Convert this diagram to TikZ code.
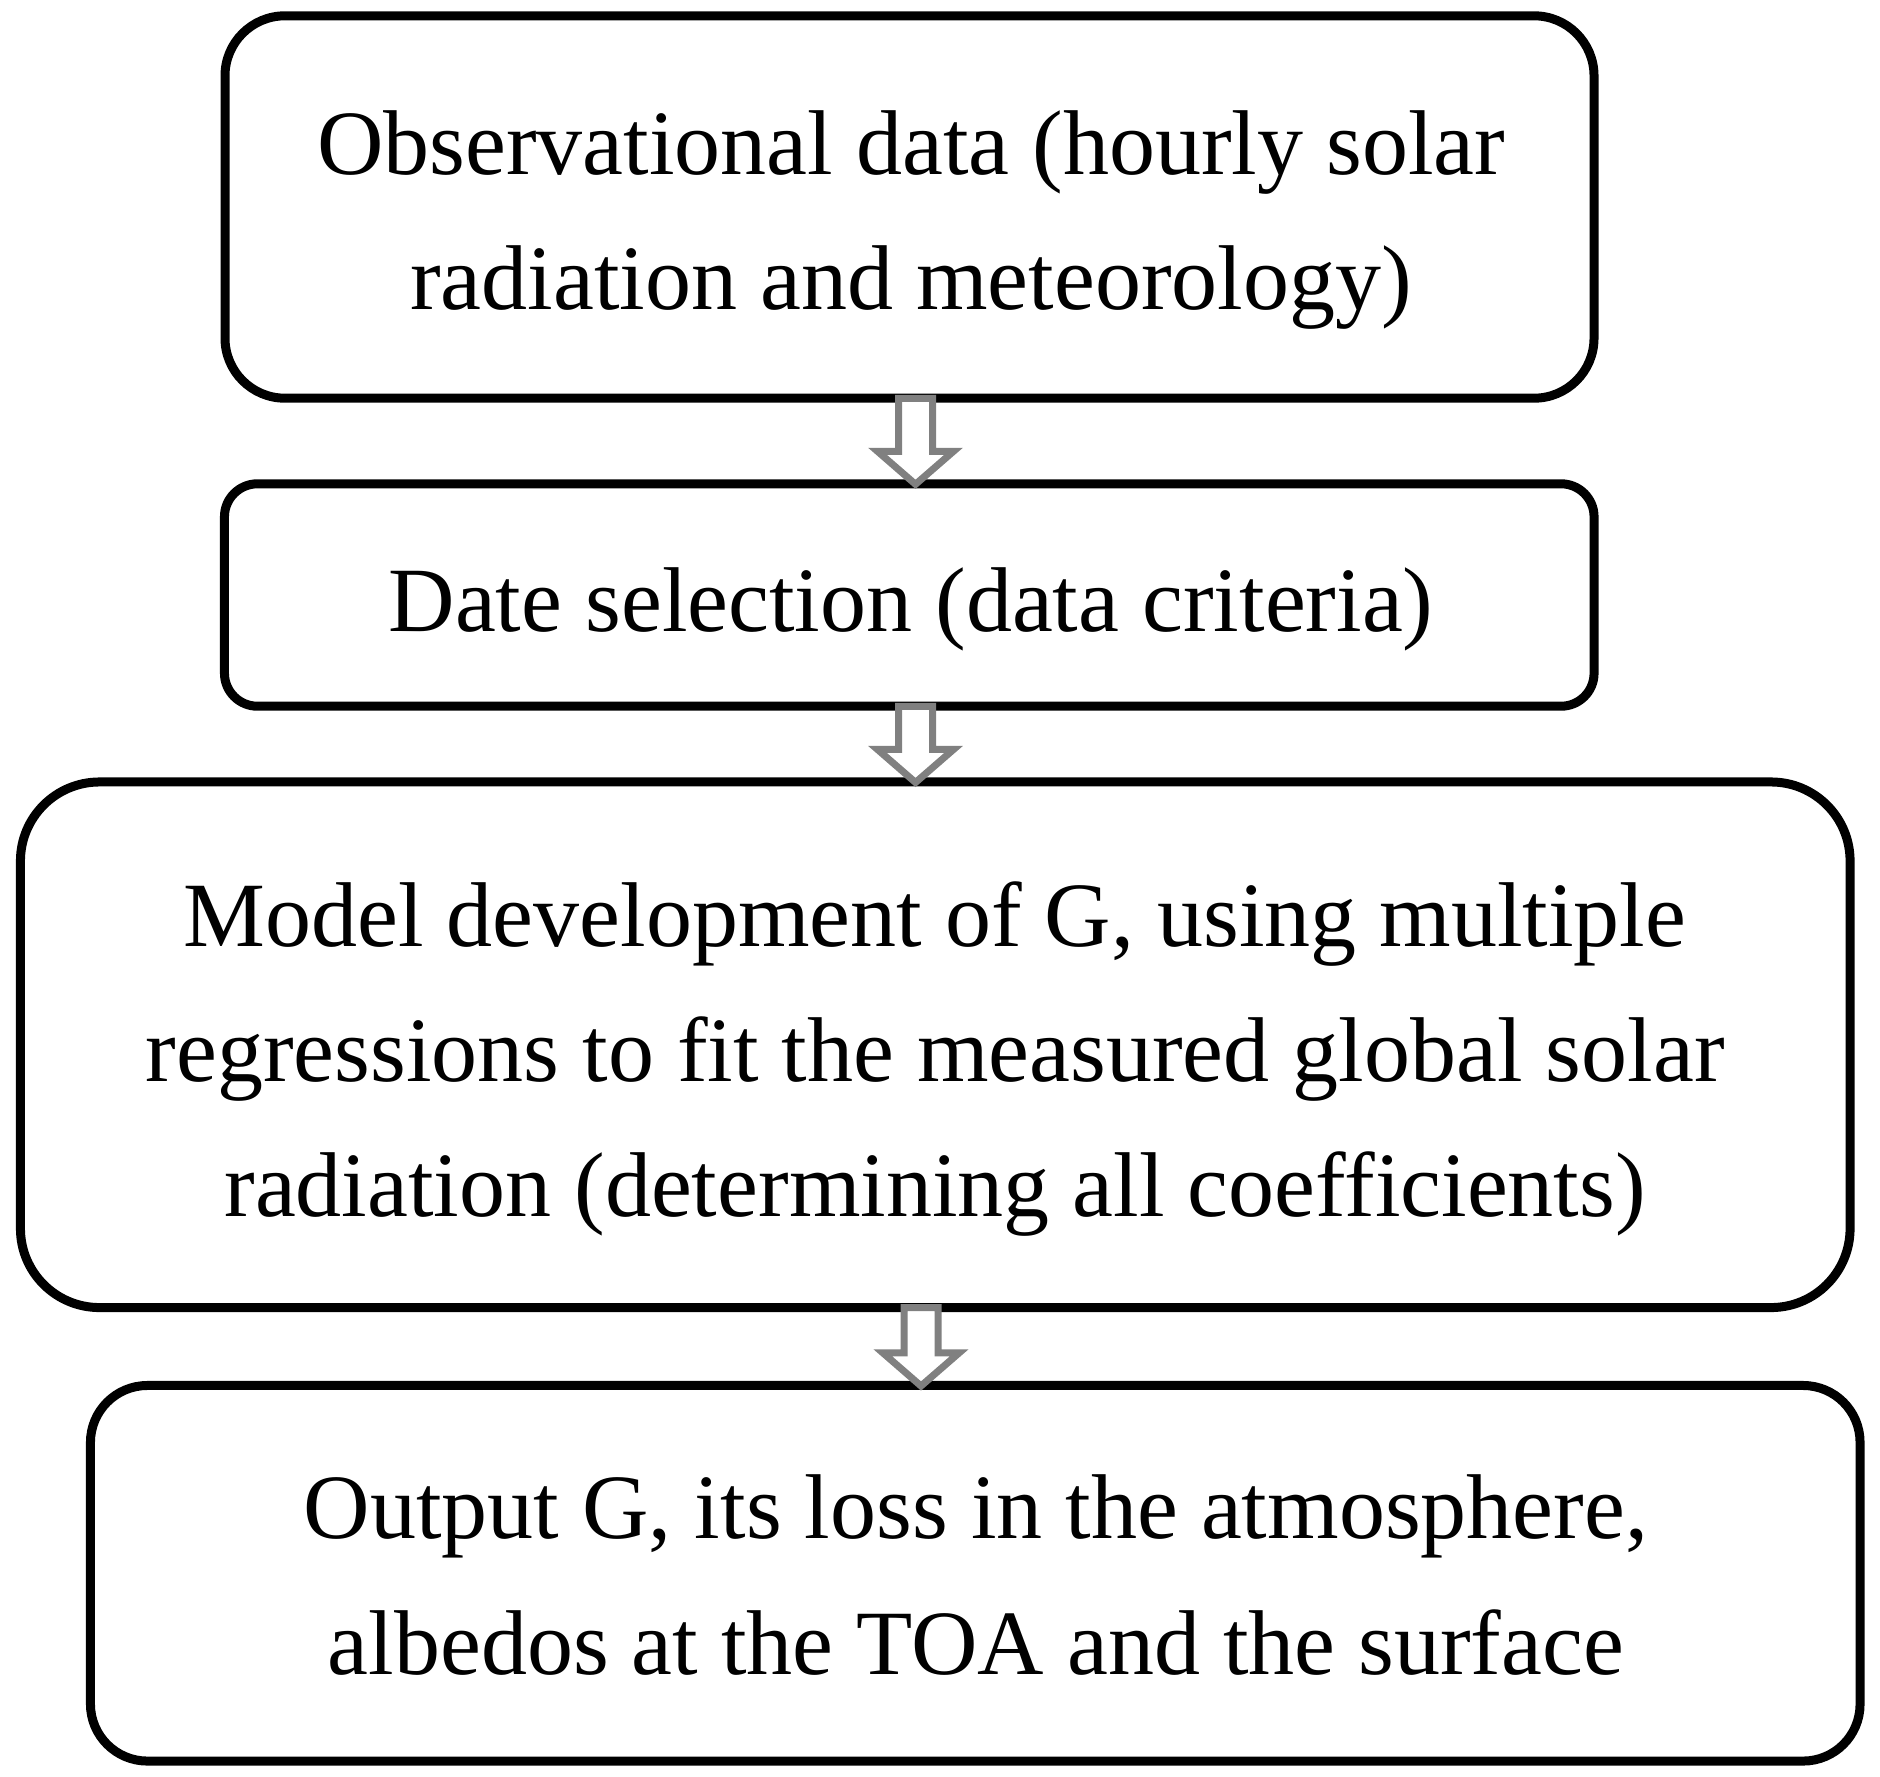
\documentclass[tikz,border=0pt]{standalone}
\usepackage{fontspec}
\setmainfont{Liberation Serif}
\usetikzlibrary{calc}
\definecolor{arrowgray}{RGB}{128,128,128}
\tikzset{
  box/.style={draw=black, line width=2.25pt, rounded corners=#1, inner sep=0pt},
  box/.default=12pt,
  txt/.style={inner sep=0pt, align=center, font=\fontsize{23pt}{33.75pt}\selectfont},
  hollow/.style={draw=arrowgray, line width=1.75pt, fill=white, line join=miter}
}
% hollow block arrow: from node, to node, x offset
\newcommand{\flowarrow}[3]{%
  \draw[hollow] let \p1=($(#1)+(#3,0)$), \p2=(#2) in
    (\x1-4.25pt,\y1+1.1pt) -- (\x1-4.25pt,\y2+7pt) -- (\x1-9.5pt,\y2+7pt) -- (\x1,\y2-1.25pt)
    -- (\x1+9.5pt,\y2+7pt) -- (\x1+4.25pt,\y2+7pt) -- (\x1+4.25pt,\y1+1.1pt) -- cycle;}

\begin{document}
\begin{tikzpicture}[x=0.25pt,y=-0.25pt]
\useasboundingbox (0,0) rectangle (1880,1776);

%Shape: Rounded Rect [id:obs]
\draw (909.5,207) node [box=15pt, minimum width=342.25pt, minimum height=95.6pt] (obs) {};
%Shape: Rounded Rect [id:sel]
\draw (909.25,595) node [box=8.25pt, minimum width=342.4pt, minimum height=55.6pt] (sel) {};
%Shape: Rounded Rect [id:model]
\draw (935.25,1044.75) node [box=19.75pt, minimum width=457.4pt, minimum height=131.4pt] (model) {};
%Shape: Rounded Rect [id:out]
\draw (975.25,1573.25) node [box=14.25pt, minimum width=442.4pt, minimum height=93.9pt] (out) {};

%Shape: Down Arrow
\flowarrow{obs.south}{sel.north}{6}
%Shape: Down Arrow
\flowarrow{sel.south}{model.north}{6.25}
%Shape: Down Arrow
\flowarrow{model.south}{out.north}{-14.25}

% Text Node
\draw (911,220) node [txt] (obstext) {Observational data (hourly solar\\radiation and meteorology)};
% Text Node
\draw (911,609) node [txt] (seltext) {Date selection (data criteria)};
% Text Node
\draw (935,1059) node [txt] (modeltext) {Model development of G, using multiple\\regressions to fit the measured global solar\\radiation (determining all coefficients)};
% Text Node
\draw (976,1575) node [txt] (outtext) {Output G, its loss in the atmosphere,\\albedos at the TOA and the surface};

\end{tikzpicture}
\end{document}
